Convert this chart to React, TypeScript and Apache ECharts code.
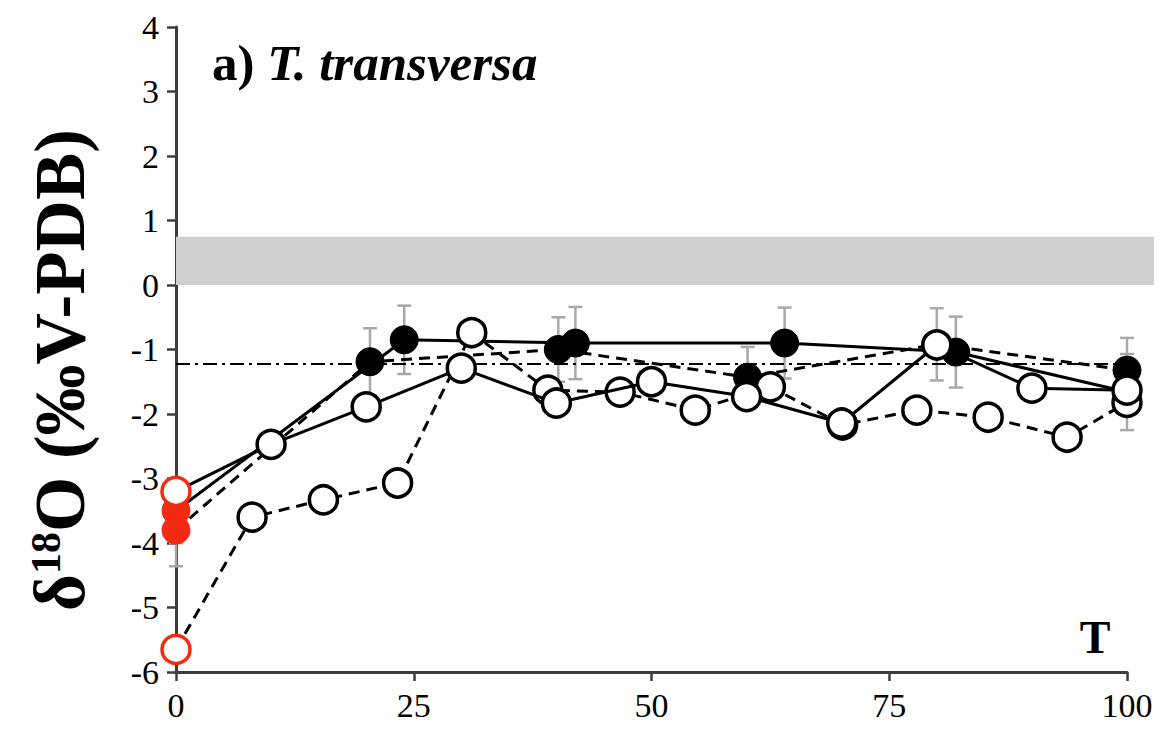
import React, { useEffect, useRef } from "react";
import * as echarts from "echarts";

// Sampling days and δ18O values (‰ V-PDB) for each treatment
const tSolidFilled = [0, 24, 42, 64, 82, 100];
const vSolidFilled = [-3.5, -0.85, -0.9, -0.9, -1.04, -1.66];
const eSolidFilled = [0.5, 0.53, 0.56, 0.55, 0.55, 0.59];

const tDashFilled = [0, 20.4, 40.2, 60.1, 80, 100];
const vDashFilled = [-3.8, -1.19, -1.0, -1.43, -0.92, -1.32];
const eDashFilled = [0.56, 0.52, 0.5, 0.47, 0.56, 0.5];

const tSolidOpen = [0, 10, 20, 30, 40, 50, 60, 70, 80, 90, 100];
const vSolidOpen = [-3.2, -2.47, -1.89, -1.29, -1.83, -1.5, -1.73, -2.14, -0.93, -1.6, -1.63];

const tDashOpen = [0, 8, 15.5, 23.3, 31.1, 39.1, 46.7, 54.6, 62.5, 70.1, 77.9, 85.4, 93.7, 100];
const vDashOpen = [-5.65, -3.6, -3.33, -3.07, -0.74, -1.63, -1.66, -1.94, -1.58, -2.17, -1.94, -2.05, -2.36, -1.82];

// Reference band and mean line
const bandLow = 0;
const bandHigh = 0.75;
const refLine = -1.22;

const xTicks = [0, 25, 50, 75, 100];
const yMin = -6;
const yMax = 4;

const RED = "#f22a12";
const SERIF = "Liberation Serif";

function points(ts: number[], vs: number[], open: boolean) {
  return ts.map((t, i) => {
    if (t === 0) {
      return {
        value: [t, vs[i]],
        itemStyle: open
          ? { color: "#ffffff", borderColor: RED }
          : { color: RED, borderColor: RED },
      };
    }
    return { value: [t, vs[i]] };
  });
}

function errorSeries(ts: number[], vs: number[], es: number[]) {
  return {
    type: "custom",
    z: 2,
    silent: true,
    data: ts.map((t, i) => [t, vs[i], es[i]]),
    encode: { x: 0, y: 1 },
    renderItem: (params: any, api: any) => {
      const x = api.value(0);
      const y = api.value(1);
      const e = api.value(2);
      const top = api.coord([x, y + e]);
      const bot = api.coord([x, y - e]);
      const hw = 7;
      const st = { stroke: "#a8a8a8", lineWidth: 2.5 };
      return {
        type: "group",
        children: [
          { type: "line", shape: { x1: top[0], y1: top[1], x2: bot[0], y2: bot[1] }, style: st },
          { type: "line", shape: { x1: top[0] - hw, y1: top[1], x2: top[0] + hw, y2: top[1] }, style: st },
          { type: "line", shape: { x1: bot[0] - hw, y1: bot[1], x2: bot[0] + hw, y2: bot[1] }, style: st },
        ],
      };
    },
  };
}

export default function App() {
  const ref = useRef<HTMLDivElement>(null);

  useEffect(() => {
    document.body.style.margin = "0";
    if (!ref.current) return;
    const chart = echarts.init(ref.current, null, { renderer: "svg" });

    const lineBase = {
      type: "line",
      symbol: "circle",
      symbolSize: 28,
      showSymbol: true,
      silent: true,
    };

    const option: any = {
      animation: false,
      backgroundColor: "#ffffff",
      grid: { left: 176, right: 37, top: 27, bottom: 72, containLabel: false },
      xAxis: {
        type: "value",
        min: 0,
        max: 100,
        interval: 25,
        axisLine: { show: true, onZero: false, lineStyle: { color: "#3c3c3c", width: 3 } },
        axisTick: { show: true, length: 9, lineStyle: { color: "#3c3c3c", width: 2.5 } },
        splitLine: { show: false },
        axisLabel: {
          fontFamily: SERIF,
          fontSize: 34,
          color: "#000",
          margin: 16,
          formatter: (v: number) => (xTicks.includes(v) ? String(v) : ""),
        },
      },
      yAxis: {
        type: "value",
        min: yMin,
        max: yMax,
        interval: 1,
        axisLine: { show: true, onZero: false, lineStyle: { color: "#3c3c3c", width: 3 } },
        axisTick: { show: true, length: 9, lineStyle: { color: "#3c3c3c", width: 2.5 } },
        splitLine: { show: false },
        axisLabel: { fontFamily: SERIF, fontSize: 34, color: "#000", margin: 17 },
      },
      graphic: [
        {
          type: "text",
          left: 212,
          top: 37,
          style: {
            text: "{b|a) }{i|T. transversa}",
            rich: {
              b: { fontFamily: SERIF, fontSize: 51, fontWeight: "bold", fill: "#000" },
              i: { fontFamily: SERIF, fontSize: 51, fontWeight: "bold", fontStyle: "italic", fill: "#000" },
            },
          },
        },
        {
          type: "text",
          x: 1095,
          y: 637,
          style: {
            text: "T",
            fontFamily: SERIF,
            fontSize: 46,
            fontWeight: "bold",
            fill: "#000",
            align: "center",
            verticalAlign: "middle",
          },
        },
        {
          type: "text",
          x: 60,
          y: 370,
          rotation: Math.PI / 2,
          style: {
            text: "{m|δ}{s|18}{m|O (‰V-PDB)}",
            align: "center",
            verticalAlign: "middle",
            rich: {
              m: { fontFamily: SERIF, fontSize: 71, fontWeight: "bold", fill: "#000", verticalAlign: "bottom" },
              s: { fontFamily: SERIF, fontSize: 42, fontWeight: "bold", fill: "#000", verticalAlign: "top", padding: [0, 0, 26, 0] },
            },
          },
        },
      ],
      series: [
        {
          type: "custom",
          z: 1,
          silent: true,
          clip: false,
          data: [[0, bandLow, bandHigh]],
          encode: { x: 0, y: 1 },
          renderItem: (params: any, api: any) => {
            const p0 = api.coord([0, api.value(2)]);
            const p1 = api.coord([100, api.value(1)]);
            return {
              type: "rect",
              shape: { x: p0[0], y: p0[1], width: p1[0] - p0[0] + 27, height: p1[1] - p0[1] },
              style: { fill: "#cfcfcf" },
            };
          },
        },
        errorSeries(tSolidFilled, vSolidFilled, eSolidFilled),
        errorSeries(tDashFilled, vDashFilled, eDashFilled),
        {
          ...lineBase,
          z: 3,
          data: points(tSolidFilled, vSolidFilled, false),
          lineStyle: { color: "#000", width: 3, type: "solid" },
          itemStyle: { color: "#000", borderColor: "#000", borderWidth: 1 },
          markLine: {
            silent: true,
            symbol: "none",
            label: { show: false },
            lineStyle: { color: "#000", width: 2, type: [14, 5, 3, 5] },
            data: [{ yAxis: refLine }],
          },
        },
        {
          ...lineBase,
          z: 3,
          data: points(tDashFilled, vDashFilled, false),
          lineStyle: { color: "#000", width: 3, type: [11, 7] },
          itemStyle: { color: "#000", borderColor: "#000", borderWidth: 1 },
        },
        {
          ...lineBase,
          z: 4,
          data: points(tDashOpen, vDashOpen, true),
          lineStyle: { color: "#000", width: 3, type: [11, 7] },
          itemStyle: { color: "#ffffff", borderColor: "#000", borderWidth: 3.5 },
        },
        {
          ...lineBase,
          z: 5,
          data: points(tSolidOpen, vSolidOpen, true),
          lineStyle: { color: "#000", width: 3, type: "solid" },
          itemStyle: { color: "#ffffff", borderColor: "#000", borderWidth: 3.5 },
        },
      ],
    };

    chart.setOption(option);
    return () => chart.dispose();
  }, []);

  return <div ref={ref} style={{ width: 1164, height: 744 }} />;
}
